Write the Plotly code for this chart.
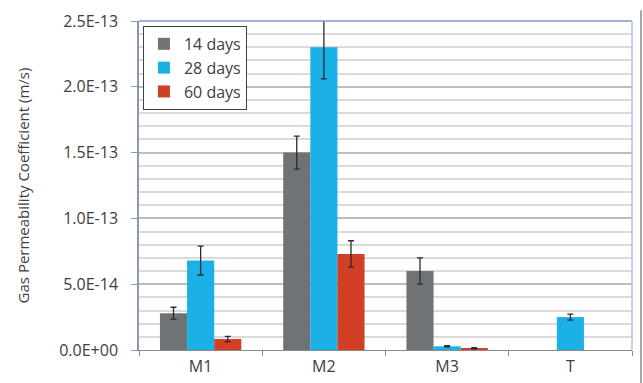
import plotly.graph_objects as go

categories = ["M1", "M2", "M3", "T"]
days14 = [2.8e-14, 1.5e-13, 6.0e-14, None]
days28 = [6.8e-14, 2.3e-13, 2.8e-15, 2.5e-14]
days60 = [8.4e-15, 7.3e-14, 1.3e-15, None]
err14 = [4.5e-15, 1.25e-14, 1.0e-14, None]
err28 = [1.1e-14, 2.4e-14, 5e-16, 2.3e-15]
err60 = [2.0e-15, 1.0e-14, 5e-16, None]
series_names = ["14 days", "28 days", "60 days"]
colors = ["#707375", "#1bb0e6", "#d03f26"]
ytick_vals = [0, 5e-14, 1e-13, 1.5e-13, 2e-13, 2.5e-13]
ytick_text = ["0.0E+00", "5.0E-14", "1.0E-13", "1.5E-13", "2.0E-13", "2.5E-13"]

FONT = "Open Sans"
fig = go.Figure()
for name, vals, errs, col in zip(series_names, [days14, days28, days60],
                                 [err14, err28, err60], colors):
    fig.add_trace(go.Bar(
        x=categories, y=vals, name=name,
        marker=dict(color=col, line=dict(width=0)),
        error_y=dict(type="data", array=errs, visible=True,
                     color="#2b2b2b", thickness=1.3, width=3),
    ))

fig.update_layout(
    width=643, height=383,
    margin=dict(l=139, r=11, t=21, b=33, autoexpand=False),
    paper_bgcolor="white", plot_bgcolor="white",
    barmode="group", bargap=0.34, bargroupgap=0,
    font=dict(family=FONT, size=15, color="#404040"),
    showlegend=True,
    legend=dict(x=0.008, y=0.985, xanchor="left", yanchor="top",
                bgcolor="white", bordercolor="#404040", borderwidth=1,
                font=dict(size=16, color="#404040"),
                tracegroupgap=0, itemwidth=30),
    xaxis=dict(
        type="category", showgrid=False, zeroline=False, automargin=False,
        showline=True, linecolor="#8c8c8c", linewidth=1,
        ticks="outside", tickson="boundaries", ticklen=5, tickcolor="#8c8c8c",
        tickfont=dict(size=16, color="#404040"),
        ticklabelstandoff=2,
        fixedrange=True,
    ),
    yaxis=dict(
        range=[0, 2.5e-13], tickvals=ytick_vals, ticktext=ytick_text,
        automargin=False,
        showgrid=True, gridcolor="#bdbdbd", gridwidth=1.5,
        minor=dict(dtick=1e-14, showgrid=True, gridcolor="#dadada", gridwidth=1.5,
                   ticks=""),
        zeroline=False,
        showline=True, linecolor="#8898ae", linewidth=1.5,
        ticks="outside", ticklen=6, tickcolor="#8898ae",
        ticklabelstandoff=10,
        tickfont=dict(size=16, color="#404040"),
        title=dict(text="Gas Permeability Coefficient (m/s)",
                   font=dict(size=15, color="#404040"), standoff=26),
    ),
    shapes=[
        dict(type="line", xref="paper", yref="paper", x0=0, x1=1, y0=1, y1=1,
             line=dict(color="#7f9dc2", width=1.5)),
        dict(type="line", xref="paper", yref="paper", x0=1, x1=1, y0=0, y1=1,
             line=dict(color="#a8c4e6", width=1.5)),
        dict(type="line", xref="paper", yref="paper", x0=1.0183, x1=1.0183,
             y0=-0.105, y1=1.033, line=dict(color="#8a8a8a", width=1.5)),
    ],
)

fig.write_html("out.html")
